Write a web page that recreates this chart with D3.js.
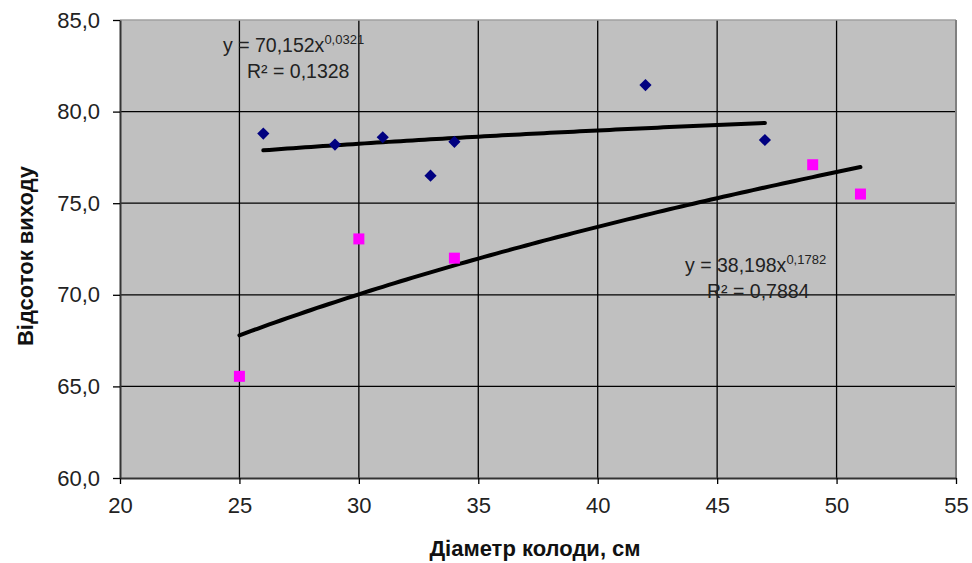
<!DOCTYPE html>
<html>
<head>
<meta charset="utf-8">
<script src="https://cdn.jsdelivr.net/npm/d3@7"></script>
<style>
  body { margin: 0; background: #fff; }
  text { font-family: "Liberation Sans", Arial, sans-serif; }
</style>
</head>
<body>
<div id="chart"></div>
<script>
// series 1 (blue diamonds)
var diamX = [26, 29, 31, 33, 34, 42, 47];
var diamY = [78.8, 78.2, 78.6, 76.5, 78.35, 81.45, 78.45];
// series 2 (pink squares)
var sqX = [25, 30, 34, 49, 51];
var sqY = [65.55, 73.05, 72.0, 77.1, 75.5];

// power trendlines y = a * x^b, as displayed on the chart
var trend1 = {a: 70.152, b: 0.0321, from: 26, to: 47};
var trend2 = {a: 38.198, b: 0.1782, from: 25, to: 51};

var xTicks = [20, 25, 30, 35, 40, 45, 50, 55];
var yTicks = [60, 65, 70, 75, 80, 85];

var width = 972, height = 563;
var margin = {top: 20, right: 16, bottom: 85, left: 120};
var graphWidth = width - margin.left - margin.right;
var graphHeight = height - margin.top - margin.bottom;

var svg = d3.select("#chart")
  .append("svg")
  .attr("width", width)
  .attr("height", height);

var g = svg.append("g")
  .attr("transform", "translate(" + margin.left + "," + margin.top + ")");

var x = d3.scaleLinear().domain([20, 55]).range([0, graphWidth]);
var y = d3.scaleLinear().domain([60, 85]).range([graphHeight, 0]);

// plot background
g.append("rect")
  .attr("width", graphWidth)
  .attr("height", graphHeight)
  .attr("fill", "#c0c0c0");

// gridlines
g.selectAll(".vgrid")
  .data(xTicks.slice(1, -1))
  .enter().append("line")
  .attr("x1", d => x(d)).attr("x2", d => x(d))
  .attr("y1", 0).attr("y2", graphHeight)
  .attr("stroke", "#000").attr("stroke-width", 1.3);

g.selectAll(".hgrid")
  .data(yTicks.slice(1, -1))
  .enter().append("line")
  .attr("y1", d => y(d)).attr("y2", d => y(d))
  .attr("x1", 0).attr("x2", graphWidth)
  .attr("stroke", "#000").attr("stroke-width", 1.3);

// plot border top/right
g.append("line")
  .attr("x1", 0).attr("x2", graphWidth).attr("y1", 0).attr("y2", 0)
  .attr("stroke", "#a0a0a0").attr("stroke-width", 1.5);
g.append("line")
  .attr("x1", graphWidth).attr("x2", graphWidth).attr("y1", 0).attr("y2", graphHeight)
  .attr("stroke", "#808080").attr("stroke-width", 2);

// axes
var xAxis = g.append("g")
  .attr("transform", "translate(0," + graphHeight + ")")
  .call(d3.axisBottom(x).tickValues(xTicks).tickSizeInner(6).tickSizeOuter(0).tickPadding(10));

var yAxis = g.append("g")
  .call(d3.axisLeft(y).tickValues(yTicks).tickSizeInner(7).tickSizeOuter(0).tickPadding(13)
    .tickFormat(d => d3.format(".1f")(d).replace(".", ",")));

[xAxis, yAxis].forEach(function(a) {
  a.select(".domain").attr("stroke", "#333").attr("stroke-width", 2);
  a.selectAll(".tick line").attr("stroke", "#000").attr("stroke-width", 1.3);
  a.selectAll(".tick text")
    .attr("fill", "#222")
    .style("font-family", "'Liberation Sans', Arial, sans-serif")
    .style("font-size", "22px");
});
xAxis.selectAll(".tick text").attr("dy", "0.85em");

// trendlines
function trendPoints(t) {
  var pts = [];
  for (var v = t.from; v <= t.to + 1e-9; v += 0.25) pts.push([v, t.a * Math.pow(v, t.b)]);
  return pts;
}
var line = d3.line().x(d => x(d[0])).y(d => y(d[1]));

[trend1, trend2].forEach(function(t) {
  g.append("path")
    .attr("d", line(trendPoints(t)))
    .attr("fill", "none")
    .attr("stroke", "#000")
    .attr("stroke-width", 4)
    .attr("stroke-linecap", "round");
});

// markers
var diamonds = diamX.map((v, i) => [v, diamY[i]]);
var squares = sqX.map((v, i) => [v, sqY[i]]);

g.selectAll(".diam")
  .data(diamonds)
  .enter().append("path")
  .attr("d", d3.symbol().type(d3.symbolDiamond2).size(95))
  .attr("transform", d => "translate(" + x(d[0]) + "," + y(d[1]) + ")")
  .attr("fill", "#000080");

g.selectAll(".sq")
  .data(squares)
  .enter().append("rect")
  .attr("x", d => x(d[0]) - 5.5)
  .attr("y", d => y(d[1]) - 5.5)
  .attr("width", 11).attr("height", 11)
  .attr("fill", "#ff00ff");

// equation labels
function eqLabel(t, x0, y0, r2, rx) {
  var txt = g.append("text")
    .attr("x", x0 - margin.left).attr("y", y0 - margin.top)
    .attr("fill", "#222")
    .style("font-size", "19.5px");
  txt.append("tspan").text("y = " + String(t.a).replace(".", ",") + "x");
  txt.append("tspan").attr("dy", -8).style("font-size", "13px")
    .text(String(t.b).replace(".", ","));
  g.append("text")
    .attr("x", rx - margin.left).attr("y", y0 + 26 - margin.top)
    .attr("fill", "#222")
    .style("font-size", "19.5px")
    .text("R² = " + r2);
}
eqLabel(trend1, 223, 52, "0,1328", 247);
eqLabel(trend2, 685, 272, "0,7884", 707);

// axis titles
svg.append("text")
  .attr("x", 535).attr("y", 556)
  .attr("text-anchor", "middle")
  .style("font-size", "22px").style("font-weight", "bold")
  .attr("fill", "#111")
  .text("Діаметр колоди, см");

svg.append("text")
  .attr("transform", "translate(33,256) rotate(-90)")
  .attr("text-anchor", "middle")
  .style("font-size", "22px").style("font-weight", "bold")
  .attr("fill", "#111")
  .text("Відсоток виходу");
</script>
</body>
</html>
